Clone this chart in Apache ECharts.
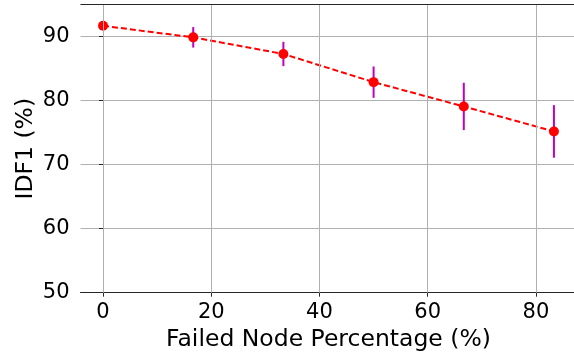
<!DOCTYPE html>
<html><head><meta charset="utf-8">
<script src="https://cdn.jsdelivr.net/npm/echarts@6/dist/echarts.min.js"></script>
<style>html,body{margin:0;padding:0;background:#fff;}#c{width:574px;height:354px;}</style>
</head><body><div id="c"></div>
<script>
const failedPct = [0, 16.67, 33.33, 50, 66.67, 83.33];
const idf1 = [91.7, 89.9, 87.3, 82.9, 79.1, 75.2];
const idf1Err = [0, 1.6, 1.9, 2.45, 3.7, 4.1];
const xTicks = [0, 20, 40, 60, 80];
const yTicks = [50, 60, 70, 80, 90];

const chart = echarts.init(document.getElementById('c'), null, {renderer: 'canvas'});
const FONT = 'DejaVu Sans';
const axisCol = '#262626';
const gridCol = '#b0b0b0';

const lineData = failedPct.map((x, i) => [x, idf1[i]]);
const errData = failedPct.map((x, i) => [x, idf1[i] - idf1Err[i], idf1[i] + idf1Err[i]]);

chart.setOption({
  animation: false,
  backgroundColor: '#fff',
  grid: {left: 80.5, top: 4.7, width: 496, height: 288, containLabel: false, outerBoundsMode: 'none', show: false},
  xAxis: {
    type: 'value', min: -4.1667, max: 87.5,
    name: 'Failed Node Percentage (%)', nameLocation: 'middle', nameGap: 35.5, nameMoveOverlap: false,
    nameTextStyle: {fontFamily: FONT, fontSize: 23.5, color: '#000'},
    axisLine: {show: true, onZero: false, lineStyle: {color: axisCol, width: 1}},
    axisTick: {show: true, length: 4, inside: false, customValues: xTicks, lineStyle: {color: axisCol}},
    axisLabel: {customValues: xTicks, fontFamily: FONT, fontSize: 21, color: '#000', margin: 9},
    splitLine: {show: false}
  },
  yAxis: {
    type: 'value', min: 50, max: 95, interval: 10,
    name: 'IDF1 (%)', nameLocation: 'middle', nameGap: 43, nameMoveOverlap: false,
    nameTextStyle: {fontFamily: FONT, fontSize: 23.5, color: '#000'},
    axisLine: {show: true, lineStyle: {color: axisCol, width: 1}},
    axisTick: {show: true, length: 4, lineStyle: {color: axisCol}},
    axisLabel: {fontFamily: FONT, fontSize: 21, color: '#000', margin: 11, showMaxLabel: false,
      formatter: v => (yTicks.indexOf(v) >= 0 ? String(v) : '')},
    splitLine: {show: true, lineStyle: {color: gridCol, width: 1}}
  },
  series: [
    {
      type: 'line', data: [], silent: true, z: 1,
      markLine: {
        silent: true, symbol: 'none', label: {show: false},
        lineStyle: {color: gridCol, width: 1, type: 'solid'},
        data: xTicks.map(v => ({xAxis: v}))
      }
    },
    {
      type: 'custom', z: 3, silent: true,
      data: errData,
      renderItem: function (params, api) {
        const x = api.value(0);
        const lo = api.coord([x, api.value(1)]);
        const hi = api.coord([x, api.value(2)]);
        return {type: 'line', shape: {x1: lo[0], y1: lo[1], x2: hi[0], y2: hi[1]},
          style: {stroke: '#bf00bf', lineWidth: 2}};
      }
    },
    {
      type: 'line', z: 4, data: lineData,
      symbol: 'circle', symbolSize: 10,
      itemStyle: {color: '#ff0000'},
      lineStyle: {color: '#ff0000', width: 2, type: [6, 3]}
    },
    {
      type: 'line', z: 5, data: [], silent: true,
      markLine: {
        silent: true, symbol: 'none', label: {show: false},
        lineStyle: {color: axisCol, width: 1, type: 'solid'},
        data: [{yAxis: 95}]
      }
    }
  ]
});
</script></body></html>
